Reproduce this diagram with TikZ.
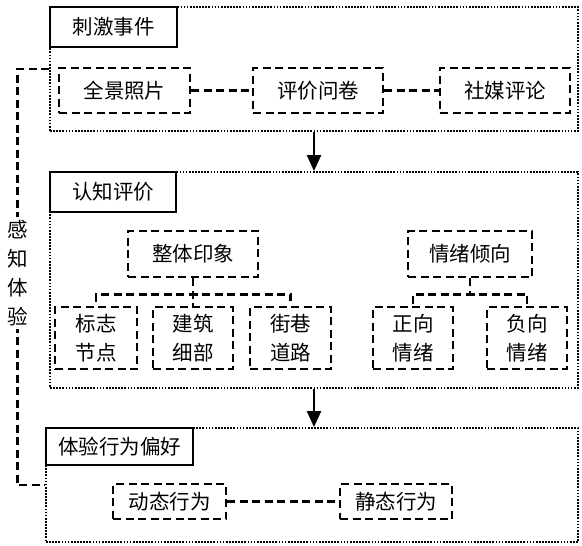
\documentclass[tikz,border=0pt]{standalone}
\usepackage{fontspec}
\setmainfont{Noto Sans CJK SC}
\usetikzlibrary{arrows.meta,positioning,calc}

\begin{document}
\begin{tikzpicture}[x=1pt, y=-1pt,
  every node/.style={font=\fontsize{20.5}{29}\selectfont, inner sep=0pt},
  panel/.style={draw, line width=1.8pt, dash pattern=on 1.7pt off 1.4pt},
  head/.style={draw, line width=2.2pt, anchor=north west, fill=white},
  item/.style={draw, line width=2.8pt, dash pattern=on 8pt off 4.5pt, align=center},
  link/.style={line width=2.8pt, dash pattern=on 8pt off 4.5pt},
  arr/.style={-{Triangle[width=14pt,length=16pt]}, line width=2.2pt}
]
\useasboundingbox (0,0) rectangle (582,546);

% three stages
\node[panel, minimum width=528pt, minimum height=124pt] (stim) at (314,69) {};
\node[panel, minimum width=528pt, minimum height=216pt] (cogn) at (314,280) {};
\node[panel, minimum width=532pt, minimum height=114pt] (pref) at (312,485) {};

\node[head, minimum width=127pt, minimum height=40pt] (stimhead) at (stim.north west) {刺激事件};
\node[head, minimum width=126pt, minimum height=40pt] (cognhead) at (cogn.north west) {认知评价};
\node[head, minimum width=147pt, minimum height=37pt] (prefhead) at (pref.north west) {体验行为偏好};

\draw[arr] (stim.south -| 314,0) -- (cogn.north -| 314,0);
\draw[arr] (cogn.south -| 314,0) -- (pref.north -| 314,0);

% stimulus sources
\node[item, minimum width=131pt, minimum height=45pt] (photo) at (124.5,90.5) {全景照片};
\node[item, minimum width=130pt, minimum height=45pt] (quest) at (318,90.5) {评价问卷};
\node[item, minimum width=130pt, minimum height=45pt] (media) at (505,90.5) {社媒评论};
\draw[link] (photo) -- (quest);
\draw[link] (quest) -- (media);

% cognitive appraisal
\node[item, minimum width=130pt, minimum height=46pt] (whole) at (193,254) {整体印象};
\node[item, minimum width=124pt, minimum height=46pt] (emo) at (470,254) {情绪倾向};

\node[item, minimum width=82pt, minimum height=62pt] (landmark) at (96,338) {标志\\节点};
\node[item, minimum width=80pt, minimum height=62pt] (detail) at (193,338) {建筑\\细部};
\node[item, minimum width=81pt, minimum height=62pt] (street) at (290.5,338) {街巷\\道路};
\node[item, minimum width=80pt, minimum height=62pt] (posemo) at (413,338) {正向\\情绪};
\node[item, minimum width=80pt, minimum height=62pt] (negemo) at (527,338) {负向\\情绪};

\draw[link] (whole.south) -- (detail.north);
\draw[link] (whole.south) -- ++(0,16) -| (landmark.north);
\draw[link] (whole.south) -- ++(0,16) -| (street.north);
\draw[link] (emo.south) -- ++(0,16) -| (posemo.north);
\draw[link] (emo.south) -- ++(0,16) -| (negemo.north);

% behaviour preference
\node[item, minimum width=113pt, minimum height=35pt] (dynamic) at (169.5,501.5) {动态行为};
\node[item, minimum width=112pt, minimum height=35pt] (static) at (396,501.5) {静态行为};
\draw[link] (dynamic) -- (static);

% perception loop
\draw[link] (stim.west) -- ++(-32,0) |- (pref.west);
\node[fill=white, align=center, inner ysep=3pt] (percept) at (18,273) {感\\知\\体\\验};

\end{tikzpicture}
\end{document}
